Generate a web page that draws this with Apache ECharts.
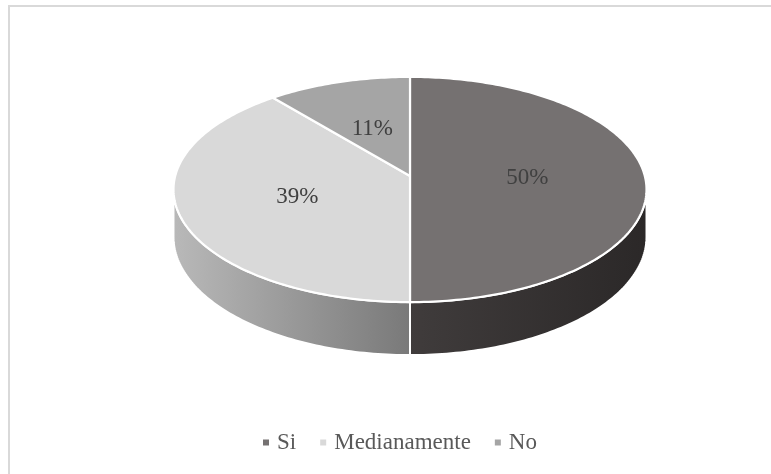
<!DOCTYPE html>
<html>
<head>
<meta charset="utf-8">
<style>
  html, body { margin: 0; padding: 0; background: #ffffff; }
  #chart { width: 771px; height: 474px; }
</style>
<script src="https://cdn.jsdelivr.net/npm/echarts@6/dist/echarts.min.js"></script>
</head>
<body>
<div id="chart"></div>
<script>
// Answers and their shares (percent)
const categories = ['Si', 'Medianamente', 'No'];
const values = [50, 39, 11];

// Face colours of each slice (top face, side gradient left -> right)
const topColors = ['#757171', '#d9d9d9', '#a5a5a5'];
const sideColors = [['#403c3c', '#2b2828'], ['#b9b9b9', '#797979'], ['#8c8c8c', '#6e6e6e']];

// Perspective disc geometry
const CX = 410, CY = 176, AX = 234.8, BY = 111, K = 0.12, DEPTH = 46.6;
const FONT = "'Times New Roman', 'Liberation Serif', serif";

const total = values.reduce((a, b) => a + b, 0);
const starts = [];
values.reduce((acc, v, i) => { starts[i] = acc; return acc + v; }, 0);

// theta: clockwise from 12 o'clock; r: 0..1 radius; drop: 0 top face, 1 bottom rim
function proj(theta, r, drop) {
  const s = Math.sin(theta), c = Math.cos(theta);
  const w = 1 + K * r * c;
  return [CX + AX * r * s / w, CY - BY * r * c / w + DEPTH * drop / w];
}

function arc(a0, a1, drop) {
  const pts = [];
  const n = Math.max(2, Math.ceil((a1 - a0) / (Math.PI / 180)));
  for (let k = 0; k <= n; k++) pts.push(proj(a0 + (a1 - a0) * k / n, 1, drop));
  return pts;
}

// front part of the rim that is seen from the camera
const VIS0 = Math.acos(-K), VIS1 = 2 * Math.PI - Math.acos(-K);

function renderSlice(params, api) {
  const i = params.seriesIndex;
  const v = api.value(0);
  const a0 = starts[i] / total * 2 * Math.PI;
  const a1 = a0 + v / total * 2 * Math.PI;
  const children = [];

  const s0 = Math.max(a0, VIS0), s1 = Math.min(a1, VIS1);
  if (s1 > s0) {
    const topEdge = arc(s0, s1, 0);
    const bottomEdge = arc(s0, s1, 1).reverse();
    const cols = sideColors[i];
    children.push({
      type: 'polygon',
      z2: 1,
      shape: { points: topEdge.concat(bottomEdge) },
      style: {
        fill: new echarts.graphic.LinearGradient(0, 0, 1, 0, [
          { offset: 0, color: cols[0] },
          { offset: 1, color: cols[1] }
        ]),
        stroke: '#ffffff',
        lineWidth: 2
      }
    });
  }

  children.push({
    type: 'polygon',
    z2: 5,
    shape: { points: [proj(0, 0, 0)].concat(arc(a0, a1, 0)) },
    style: { fill: topColors[i], stroke: '#ffffff', lineWidth: 2.2, lineJoin: 'round' }
  });

  const mid = (a0 + a1) / 2;
  const lp = proj(mid, 0.5, 0);
  children.push({
    type: 'text',
    z2: 10,
    style: {
      text: v + '%',
      x: lp[0],
      y: lp[1] + 2,
      align: 'center',
      verticalAlign: 'middle',
      font: '23px ' + FONT,
      fill: '#404040'
    }
  });

  return { type: 'group', children: children };
}

const chart = echarts.init(document.getElementById('chart'), null, { renderer: 'canvas' });

chart.setOption({
  animation: false,
  backgroundColor: '#ffffff',
  graphic: [{
    type: 'rect',
    shape: { x: 9, y: 6, width: 900, height: 600 },
    style: { fill: 'none', stroke: '#d9d9d9', lineWidth: 2 },
    silent: true
  }],
  legend: {
    data: categories,
    left: 258,
    top: 426,
    icon: 'rect',
    itemWidth: 6,
    itemHeight: 6,
    itemGap: 24,
    textStyle: {
      fontFamily: FONT,
      fontSize: 23,
      color: '#595959',
      padding: [0, 0, 0, 3]
    }
  },
  series: categories.map((name, i) => ({
    type: 'custom',
    name: name,
    coordinateSystem: 'none',
    itemStyle: { color: topColors[i] },
    data: [[values[i]]],
    renderItem: renderSlice
  }))
});
</script>
</body>
</html>
